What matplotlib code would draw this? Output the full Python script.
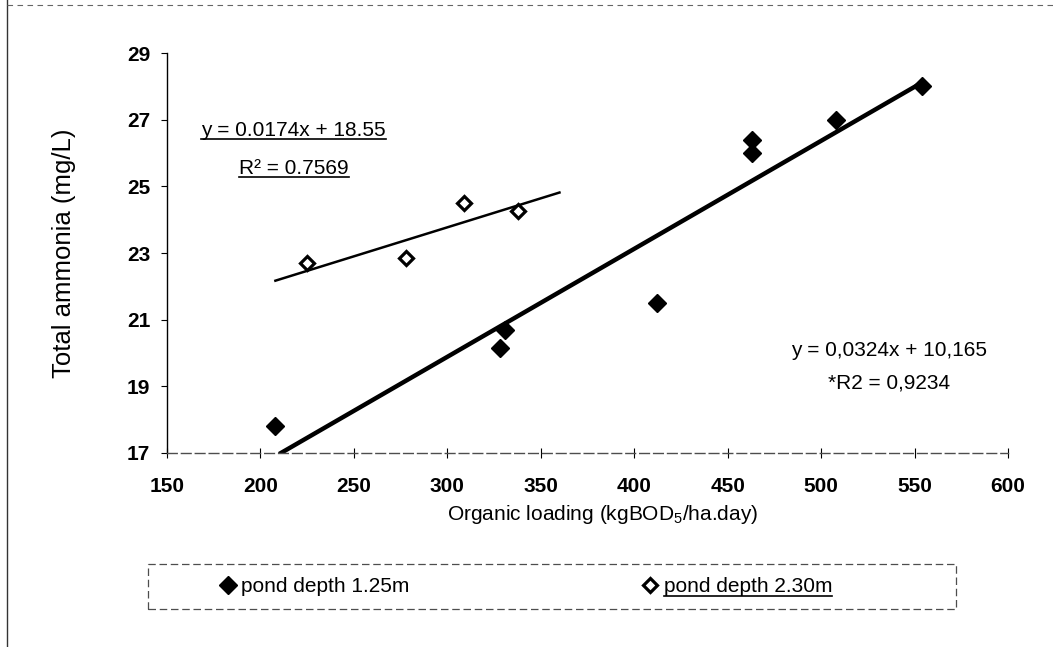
import matplotlib
matplotlib.use("Agg")
import matplotlib.pyplot as plt
import numpy as np
from matplotlib.lines import Line2D
from matplotlib.patches import Rectangle

# data
load_125 = [208, 328, 331, 412, 463, 463, 508, 554]
nh3_125 = [17.8, 20.15, 20.7, 21.5, 26.0, 26.4, 27.0, 28.0]
load_230 = [225, 278, 309, 338]
nh3_230 = [22.7, 22.85, 24.5, 24.25]

# trendline coefficients as printed on the chart
fit_125 = (0.0324, 10.165)
fit_230 = (0.0174, 18.55)
fit_125_range = (210, 553)
fit_230_range = (208, 360)

x_ticks = [150, 200, 250, 300, 350, 400, 450, 500, 550, 600]
y_ticks = [17, 19, 21, 23, 25, 27, 29]

plt.rcParams['font.family'] = ['Liberation Sans', 'DejaVu Sans']
plt.rcParams['mathtext.default'] = 'regular'

fig = plt.figure(figsize=(10.53, 6.47), dpi=100)
ax = fig.add_axes([167 / 1053, 1 - 453 / 647, 841 / 1053, 400 / 647])

# trendlines
xf = np.linspace(*fit_125_range, 50)
ax.plot(xf, fit_125[0] * xf + fit_125[1], color='black', lw=3.2, solid_capstyle='butt', zorder=2)
xf2 = np.linspace(*fit_230_range, 50)
ax.plot(xf2, fit_230[0] * xf2 + fit_230[1], color='black', lw=1.8, zorder=2)

# points
h1, = ax.plot(load_125, nh3_125, 'D', ms=9.5, color='black', ls='none', zorder=3,
              label='pond depth 1.25m')
h2, = ax.plot(load_230, nh3_230, 'D', ms=7.5, mfc='white', mec='black', mew=2.3, ls='none',
              zorder=3, label='pond depth 2.30m')

ax.set_xlim(150, 600)
ax.set_ylim(17, 29)
ax.set_xticks(x_ticks)
ax.set_yticks(y_ticks)
ax.tick_params(axis='x', direction='inout', length=7, width=0.8, pad=14, labelsize=15)
ax.tick_params(axis='y', direction='out', length=4, width=0.8, pad=8, labelsize=15)
for lb in ax.get_xticklabels() + ax.get_yticklabels():
    lb.set_fontweight('bold')

for s in ['top', 'right']:
    ax.spines[s].set_visible(False)
ax.spines['left'].set_linewidth(1)
ax.spines['bottom'].set_linewidth(1)
ax.spines['bottom'].set_color('0.3')
ax.spines['bottom'].set_linestyle((0, (7, 3)))

ax.set_ylabel('Total ammonia (mg/L)', fontsize=18.5)
ax.yaxis.set_label_coords(-0.108, 0.5)
ax.set_xlabel('Organic loading (kgBOD$_5$/ha.day)', fontsize=15)
ax.xaxis.set_label_coords(0.518, -0.125)

# equations
eq1 = ax.text(0.1504, 0.8075, 'y = 0.0174x + 18.55', transform=ax.transAxes,
              ha='center', va='center', fontsize=15)
eq1r = ax.text(0.151, 0.7125, 'R² = 0.7569', transform=ax.transAxes,
               ha='center', va='center', fontsize=15)
ax.text(0.858, 0.2575, 'y = 0,0324x + 10,165', transform=ax.transAxes,
        ha='center', va='center', fontsize=15)
ax.text(0.858, 0.175, '*R2 = 0,9234', transform=ax.transAxes,
        ha='center', va='center', fontsize=15)

# legend
leg = fig.legend([h1, h2], [h1.get_label(), h2.get_label()], ncol=2, frameon=False,
                 loc='center left', bbox_to_anchor=(210 / 1053, 1 - 587 / 647),
                 borderpad=0, handlelength=0.7, handletextpad=0.3, columnspacing=11.2,
                 fontsize=15)
fig.add_artist(Rectangle((148 / 1053, 1 - 609 / 647), 808 / 1053, 45 / 647,
                         transform=fig.transFigure, fill=False, ec='0.3', lw=0.9,
                         ls=(0, (6, 3))))

# page border bits from the scan
fig.add_artist(Line2D([7 / 1053, 7 / 1053], [0, 1], transform=fig.transFigure,
                      color='0.2', lw=1))
fig.add_artist(Line2D([7 / 1053, 1], [1 - 5 / 647, 1 - 5 / 647], transform=fig.transFigure,
                      color='0.4', lw=0.8, ls=(0, (5, 4))))

# underlines
fig.canvas.draw()
r = fig.canvas.get_renderer()
inv = fig.transFigure.inverted()
for t in [eq1, eq1r, leg.get_texts()[1]]:
    bb = t.get_window_extent(r).transformed(inv)
    yy = bb.y0 + 1.0 / 647
    fig.add_artist(Line2D([bb.x0, bb.x1], [yy, yy], transform=fig.transFigure,
                          color='black', lw=1.2))

fig.savefig('out.png', dpi=100)
